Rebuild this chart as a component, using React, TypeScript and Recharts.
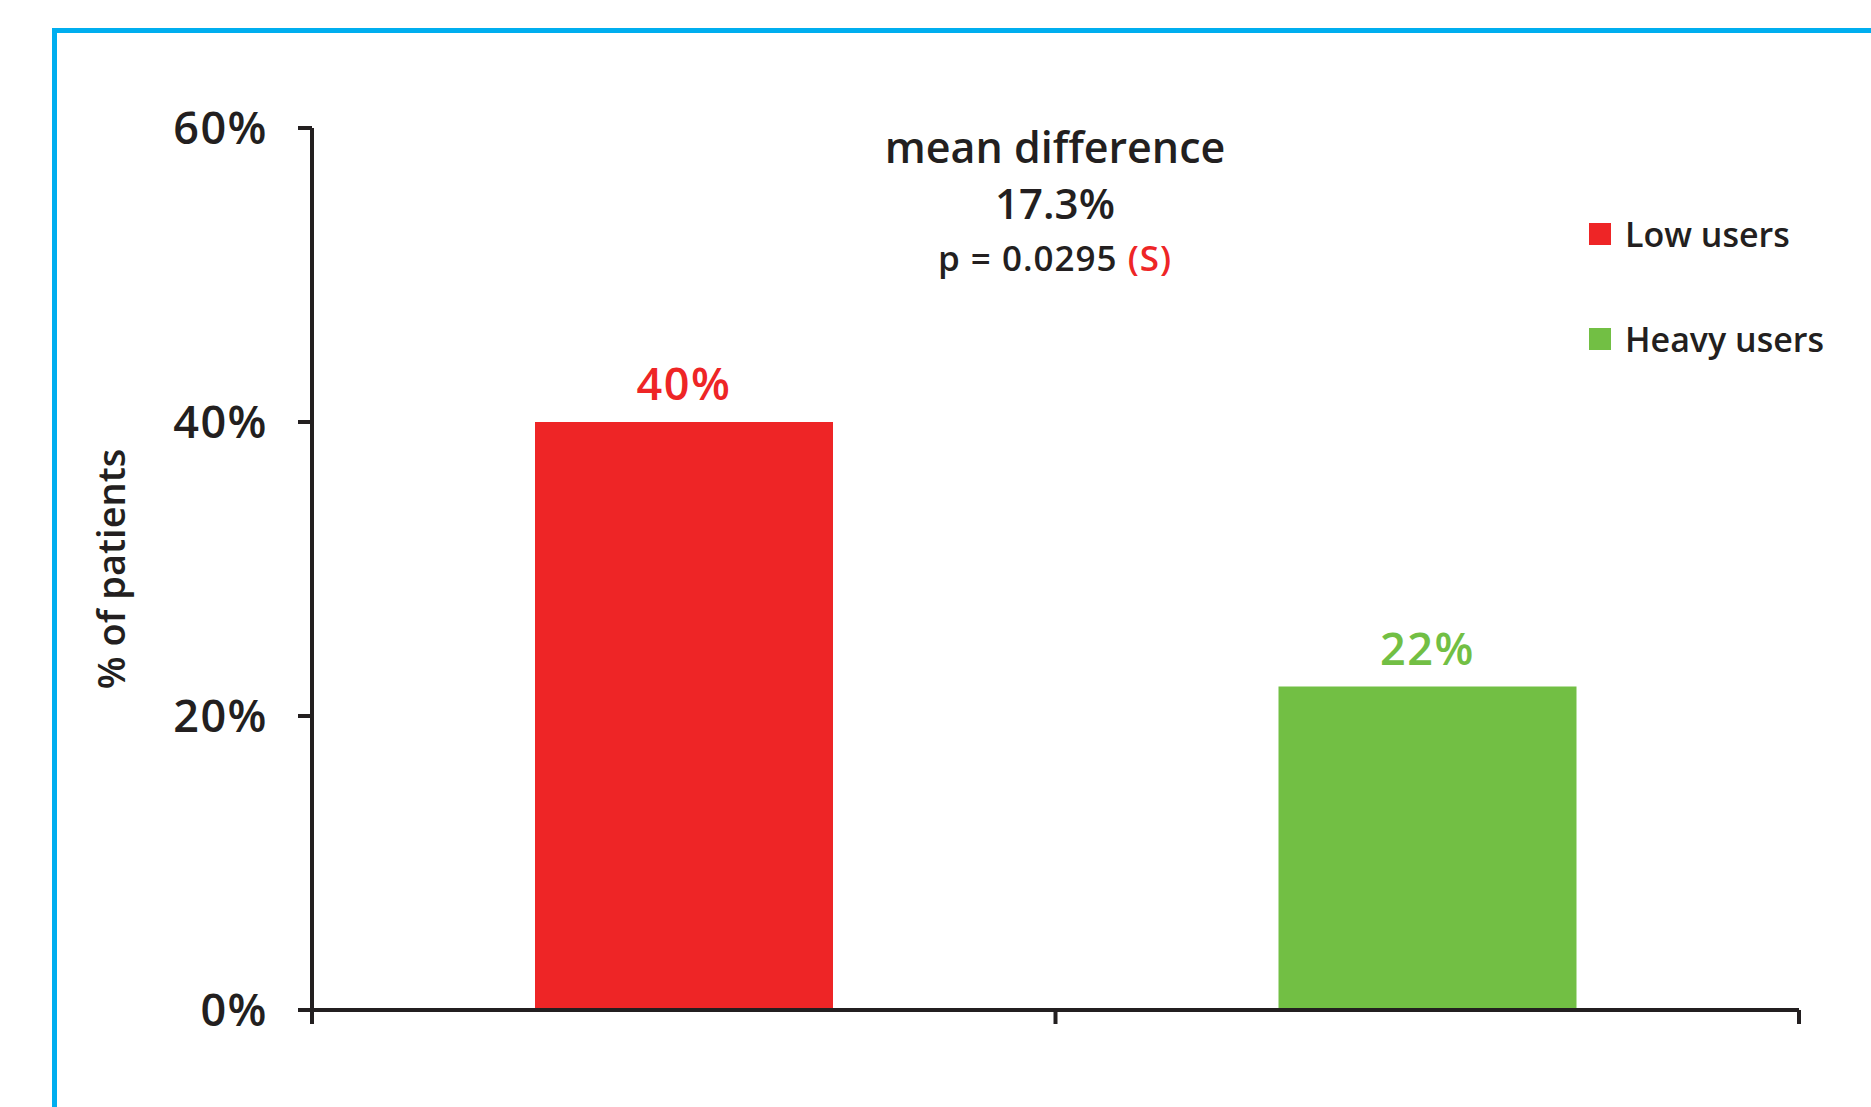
import React from 'react';
import { BarChart, Bar, XAxis, YAxis, Cell, Legend } from 'recharts';

// chart values
const categories = ['Low users', 'Heavy users'];
const percentValues = [40, 22];
const barColors = ['#EE2526', '#72BF44'];
const yTicks = [0, 20, 40, 60];
const xBoundaryTicks = [0, 1, 2];
const meanDifference = '17.3%';
const pValue = '0.0295';
const significance = '(S)';

const chartData = categories.map((name, i) => ({
  name,
  pos: i + 0.5,
  value: percentValues[i],
}));

const FONT = "'Open Sans', 'Noto Sans', sans-serif";
const INK = '#231F20';

const renderValueLabel = (props: any) => {
  const { x, y, width, value, index } = props;
  return (
    <text
      x={x + width / 2}
      y={y - 22}
      textAnchor="middle"
      fill={barColors[index]}
      fontFamily={FONT}
      fontSize={45}
      fontWeight={600}
      letterSpacing={1.5}
    >
      {`${value}%`}
    </text>
  );
};

const renderYLabel = (props: any) => {
  const { viewBox } = props;
  const cx = 125;
  const cy = viewBox.y + viewBox.height / 2;
  return (
    <text
      x={cx}
      y={cy}
      transform={`rotate(-90, ${cx}, ${cy})`}
      textAnchor="middle"
      fill={INK}
      fontFamily={FONT}
      fontSize={38}
      fontWeight={600}
    >
      % of patients
    </text>
  );
};

const LegendBox = () => (
  <div style={{ fontFamily: FONT }}>
    {categories.map((c, i) => (
      <div
        key={c}
        style={{ display: 'flex', alignItems: 'center', height: 34, marginBottom: i === 0 ? 71 : 0 }}
      >
        <span style={{ width: 22, height: 22, background: barColors[i], display: 'inline-block', marginRight: 14 }} />
        <span style={{ fontSize: 34, fontWeight: 600, color: INK, lineHeight: '34px', whiteSpace: 'nowrap' }}>{c}</span>
      </div>
    ))}
  </div>
);

const Annotation = () => (
  <g fontFamily={FONT} fill={INK} textAnchor="middle">
    <text x={1055} y={163} fontSize={43} fontWeight={600}>mean difference</text>
    <text x={1055} y={219} fontSize={42} fontWeight={600}>{meanDifference}</text>
    <text x={1055} y={271} fontSize={35} fontWeight={600} letterSpacing={1}>
      {`p = ${pValue} `}
      <tspan fill={barColors[0]}>{significance}</tspan>
    </text>
  </g>
);

export default function App() {
  return (
    <div style={{ position: 'absolute', left: 0, top: 0, width: 1871, height: 1107, background: '#fff' }}>
      <div
        style={{
          position: 'absolute',
          left: 52,
          top: 28,
          width: 1871 - 52,
          height: 1107 - 28,
          boxSizing: 'border-box',
          borderTop: '5px solid #00AEEF',
          borderLeft: '5px solid #00AEEF',
        }}
      />
      <div style={{ position: 'absolute', left: 0, top: 0 }}>
        <BarChart
          width={1871}
          height={1107}
          data={chartData}
          margin={{ top: 128, right: 72, bottom: 67, left: 60 }}
        >
          <XAxis
            type="number"
            dataKey="pos"
            domain={[0, 2]}
            ticks={xBoundaryTicks}
            tick={() => <g />}
            tickSize={14}
            height={30}
            axisLine={{ stroke: INK, strokeWidth: 4 }}
            tickLine={{ stroke: INK, strokeWidth: 4 }}
          />
          <YAxis
            domain={[0, 60]}
            ticks={yTicks}
            width={252}
            tickSize={14}
            tickMargin={30}
            tickFormatter={(v) => `${v}%`}
            axisLine={{ stroke: INK, strokeWidth: 4 }}
            tickLine={{ stroke: INK, strokeWidth: 4 }}
            tick={{ fill: INK, fontSize: 45, fontWeight: 600, fontFamily: FONT, letterSpacing: 1.5 }}
            label={{ content: renderYLabel }}
          />
          <Legend
            layout="vertical"
            align="center"
            verticalAlign="middle"
            content={() => <LegendBox />}
            wrapperStyle={{ left: 1589, top: 217, width: 260 }}
          />
          <Bar dataKey="value" barSize={298} isAnimationActive={false} label={renderValueLabel}>
            {chartData.map((d, i) => (
              <Cell key={d.name} fill={barColors[i]} />
            ))}
          </Bar>
          <Annotation />
        </BarChart>
      </div>
    </div>
  );
}
